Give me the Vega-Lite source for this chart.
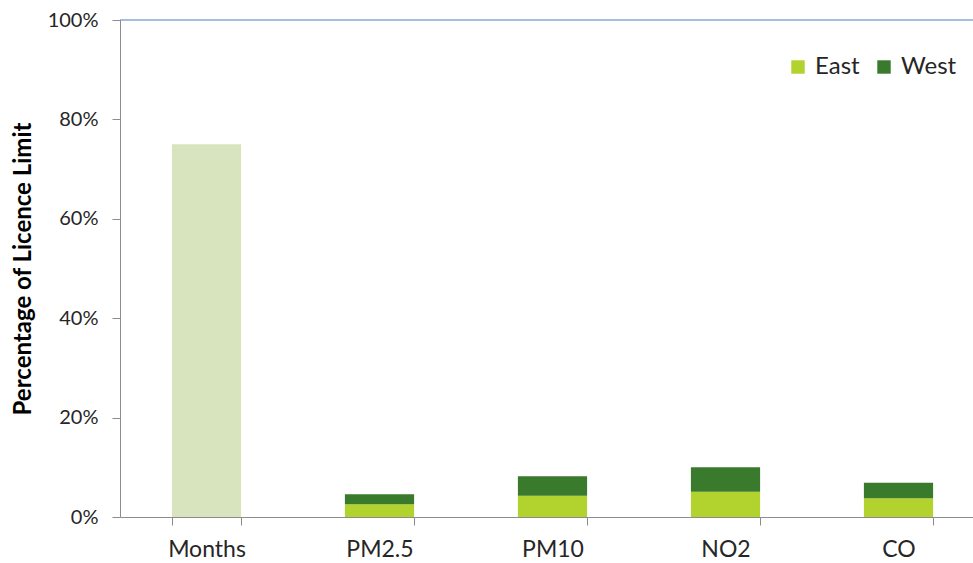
{
  "$schema": "https://vega.github.io/schema/vega-lite/v6.json",
  "width": 865,
  "height": 497,
  "autosize": {"type": "none"},
  "padding": {"left": 120, "top": 20, "right": 0, "bottom": 46},
  "background": "white",
  "config": {
    "view": {"stroke": null},
    "font": "Lato",
    "axis": {"labelFont": "Lato", "titleFont": "Lato", "domainColor": "#8c8c8c", "tickColor": "#8c8c8c", "labelColor": "#333333", "grid": false}
  },
  "datasets": {
    "months": [{"category": "Months", "value": 0.75}],
    "pollutants": [
      {"category": "PM2.5", "series": "East", "value": 0.0255},
      {"category": "PM2.5", "series": "West", "value": 0.0202},
      {"category": "PM10", "series": "East", "value": 0.0429},
      {"category": "PM10", "series": "West", "value": 0.039},
      {"category": "NO2", "series": "East", "value": 0.051},
      {"category": "NO2", "series": "West", "value": 0.049},
      {"category": "CO", "series": "East", "value": 0.0376},
      {"category": "CO", "series": "West", "value": 0.0314}
    ],
    "top": [{"v": 1}]
  },
  "encoding": {
    "x": {
      "field": "category", "type": "nominal",
      "scale": {"domain": ["Months", "PM2.5", "PM10", "NO2", "CO"], "paddingInner": 0.6, "paddingOuter": 0.3},
      "axis": {"title": null, "labelAngle": 0, "labelFontSize": 23, "labelPadding": 13, "tickSize": 8, "tickBand": "extent", "labelColor": "#262626"}
    }
  },
  "layer": [
    {
      "data": {"name": "months"},
      "mark": {"type": "bar", "color": "#d7e4bd"},
      "encoding": {
        "y": {
          "field": "value", "type": "quantitative",
          "scale": {"domain": [0, 1]},
          "axis": {"title": "Percentage of Licence Limit", "titleFontSize": 24, "titleFontWeight": "bold", "titleColor": "#000000", "titlePadding": 12, "format": ".0%", "values": [0, 0.2, 0.4, 0.6, 0.8, 1], "labelFontSize": 20, "tickSize": 8, "labelPadding": 14, "labelColor": "#262626"}
        }
      }
    },
    {
      "data": {"name": "pollutants"},
      "mark": {"type": "bar"},
      "encoding": {
        "y": {"field": "value", "type": "quantitative", "stack": "zero"},
        "color": {
          "field": "series", "type": "nominal",
          "scale": {"domain": ["East", "West"], "range": ["#b2d22d", "#3a7a2c"]},
          "legend": {"title": null, "orient": "none", "direction": "horizontal", "legendX": 666, "legendY": 35, "symbolType": "square", "symbolSize": 180, "symbolStrokeWidth": 0, "labelFontSize": 24, "labelColor": "#262626", "columnPadding": 12, "labelOffset": 5}
        },
        "order": {"field": "series", "sort": "ascending"}
      }
    },
    {
      "data": {"name": "top"},
      "mark": {"type": "rule", "color": "#4a7ebb", "strokeWidth": 1.2},
      "encoding": {"y": {"field": "v", "type": "quantitative"}, "x": {"value": 0}, "x2": {"value": 865}}
    }
  ]
}
